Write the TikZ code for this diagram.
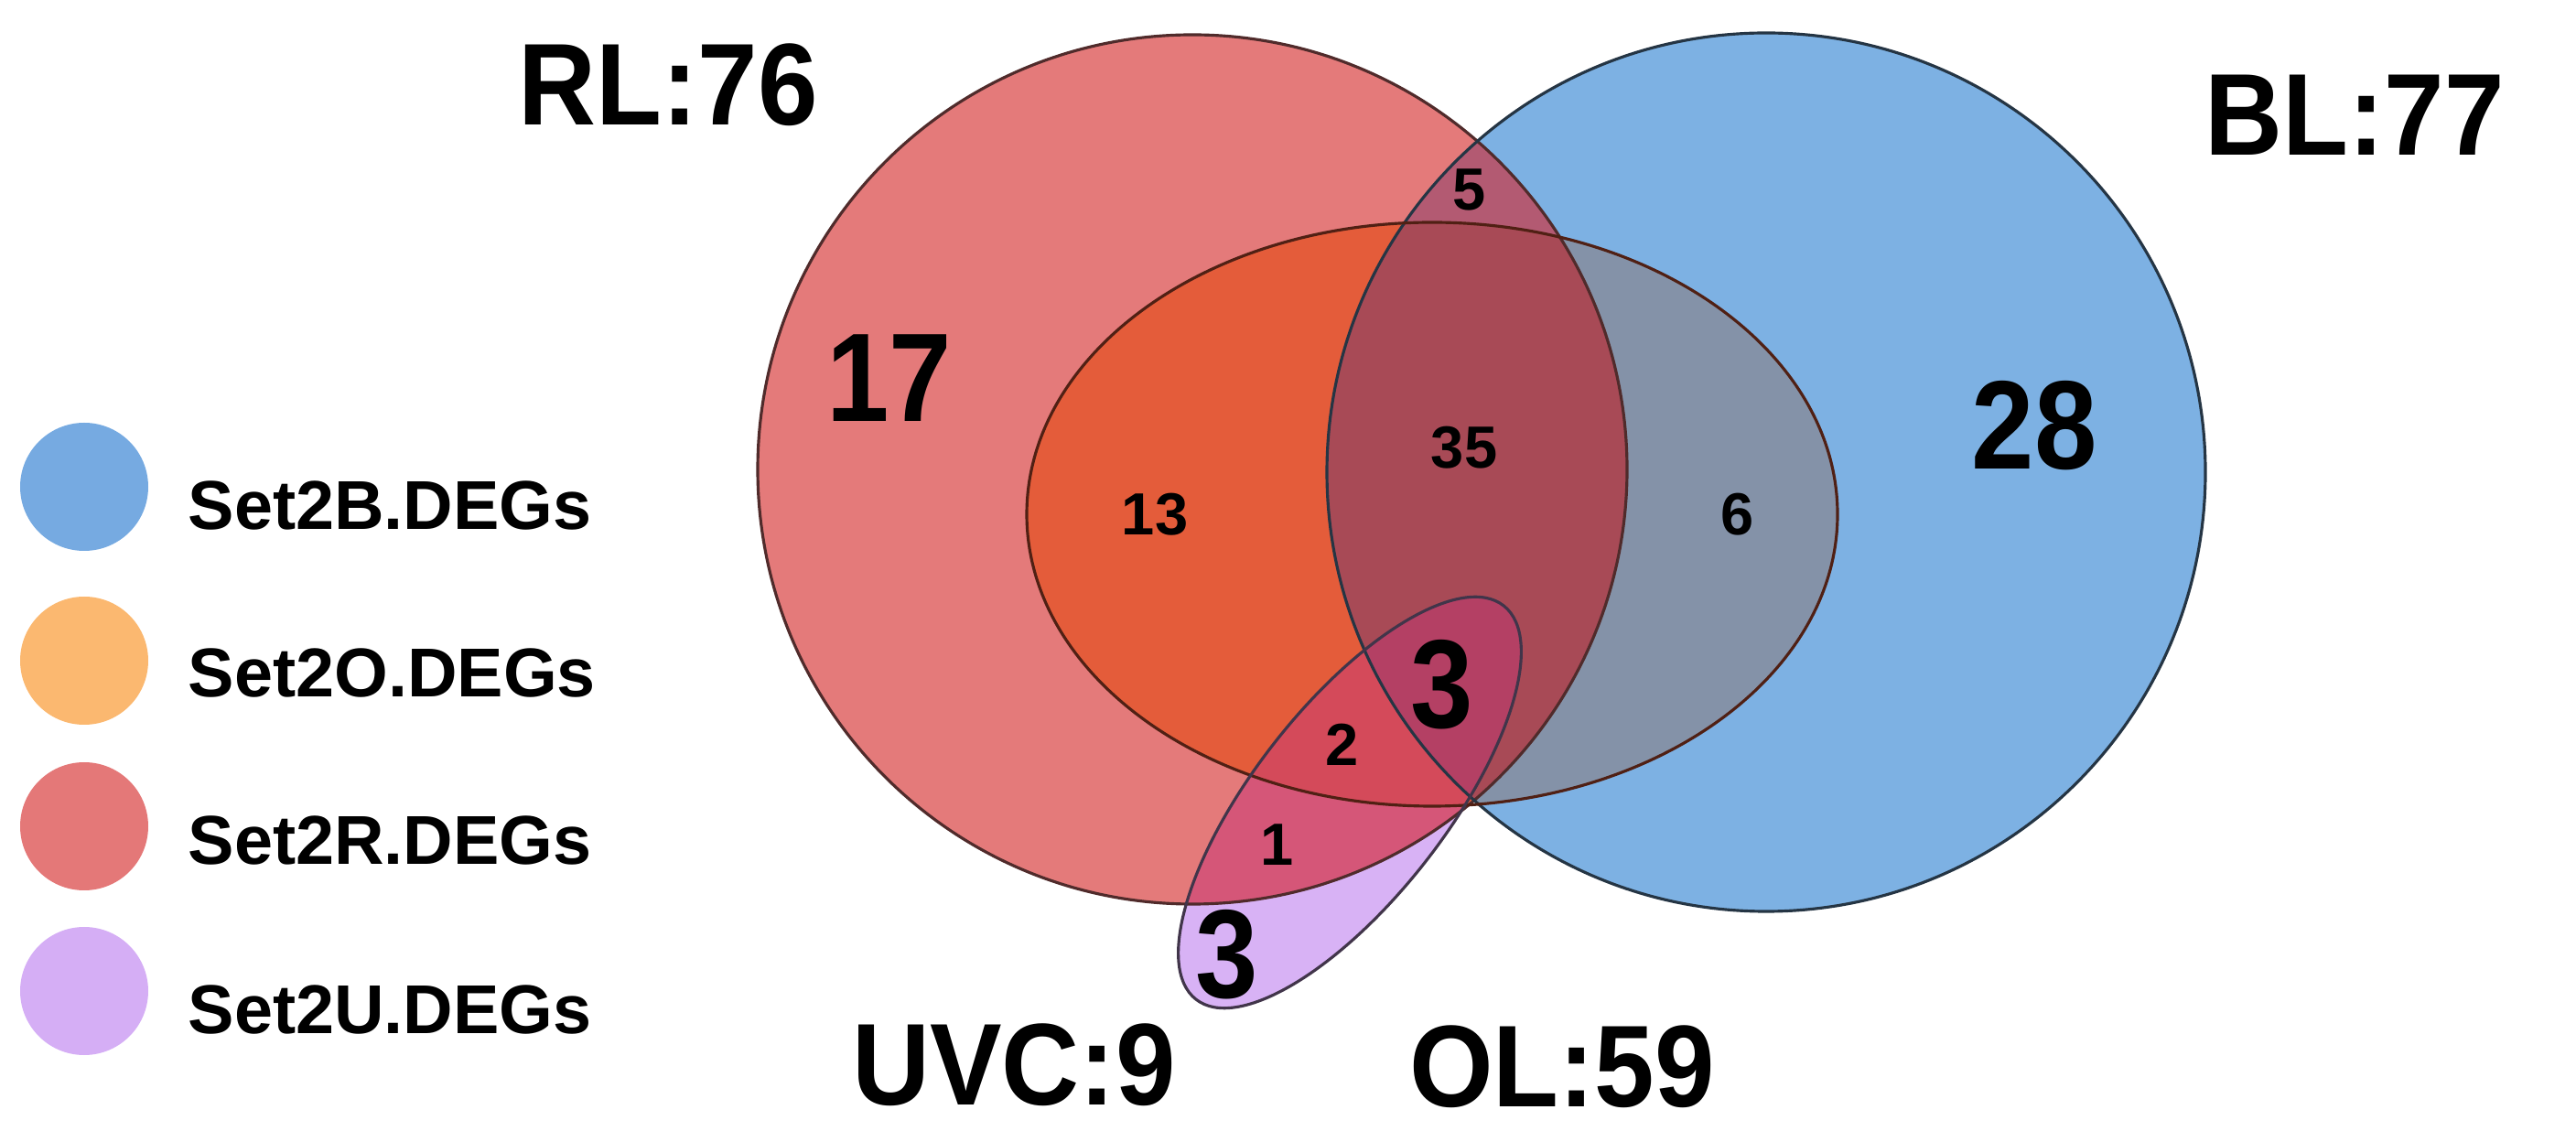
\documentclass[tikz,border=0pt]{standalone}
\usepackage{fontspec}
\setmainfont{Liberation Sans}
\usepackage{tikz}
\usetikzlibrary{positioning}

% region colours
\definecolor{rlonly}{HTML}{E47A7A}
\definecolor{blonly}{HTML}{7DB1E3}
\definecolor{rlbl}{HTML}{B35A72}
\definecolor{rlol}{HTML}{E45C3A}
\definecolor{blol}{HTML}{8492A8}
\definecolor{rlblol}{HTML}{A84A56}
\definecolor{uvconly}{HTML}{D8B2F5}
\definecolor{rluvc}{HTML}{D55678}
\definecolor{rloluvc}{HTML}{D44A5A}
\definecolor{alluvc}{HTML}{B44064}
% legend colours
\definecolor{legblue}{HTML}{76AAE1}
\definecolor{legorange}{HTML}{FBB870}
\definecolor{legred}{HTML}{E47878}
\definecolor{legpurple}{HTML}{D5AEF5}

% set shapes
\newcommand{\setRL}{(13.03,7.34) circle (4.75)}
\newcommand{\setBL}{(19.30,7.31) circle (4.80)}
\newcommand{\setOL}{(15.65,6.85) ellipse (4.43 and 3.19)}
\newcommand{\setUVC}{(14.75,3.70) ellipse (2.73 and 1.05)}

\begin{document}
\begin{tikzpicture}[
  uvcrot/.style={rotate around={52:(14.75,3.70)}},
  setlabel/.style={font=\fontsize{33.5}{36}\selectfont\bfseries, anchor=base, inner sep=0pt, yscale=1.08},
  bignum/.style={font=\fontsize{35}{38}\selectfont\bfseries, anchor=base, inner sep=0pt, yscale=1.12},
  smallnum/.style={font=\fontsize{18.5}{20}\selectfont\bfseries, anchor=base, inner sep=0pt},
  legtext/.style={font=\fontsize{21.5}{24}\selectfont\bfseries, anchor=base west, inner sep=0pt},
  legdot/.style={circle, minimum size=1.4cm, inner sep=0pt},
  outline/.style={line width=0.9pt}
]
  \useasboundingbox (0,0) rectangle (28.15,12.47);

  % RL and BL
  \fill[rlonly] \setRL;
  \fill[blonly] \setBL;
  \begin{scope}
    \clip \setRL;
    \fill[rlbl] \setBL;
  \end{scope}

  % OL inside RL and BL
  \begin{scope}
    \clip \setOL;
    \fill[rlol] \setRL;
    \fill[blol] \setBL;
    \begin{scope}
      \clip \setRL;
      \fill[rlblol] \setBL;
    \end{scope}
  \end{scope}

  % UVC
  \fill[uvconly, uvcrot] \setUVC;
  \begin{scope}
    \clip[uvcrot] \setUVC;
    \fill[rluvc] \setRL;
    \begin{scope}
      \clip \setOL;
      \fill[rloluvc] \setRL;
      \begin{scope}
        \clip \setBL;
        \fill[alluvc] \setRL;
      \end{scope}
    \end{scope}
  \end{scope}

  % outlines
  \draw[outline, draw=rlonly!35!black] \setRL;
  \draw[outline, draw=blonly!30!black] \setBL;
  \draw[outline, draw=rlol!35!black] \setOL;
  \draw[outline, draw=uvconly!30!black, uvcrot] \setUVC;

  % set names
  \node[setlabel] (rlname) at (7.30,11.10) {RL:76};
  \node[setlabel] (blname) at (25.73,10.77) {BL:77};
  \node[setlabel] (uvcname) at (11.08,0.40) {UVC:9};
  \node[setlabel] (olname) at (17.07,0.38) {OL:59};

  % counts
  \node[bignum] (n17) at (9.72,7.86) {17};
  \node[bignum] (n28) at (22.23,7.34) {28};
  \node[bignum] (n3a) at (15.76,4.51) {3};
  \node[bignum] (n3b) at (13.41,1.56) {3};
  \node[smallnum] (n5) at (16.06,10.17) {5};
  \node[smallnum] (n35) at (16.00,7.35) {35};
  \node[smallnum] (n13) at (12.62,6.62) {13};
  \node[smallnum] (n6) at (18.99,6.62) {6};
  \node[smallnum] (n2) at (14.67,4.10) {2};
  \node[smallnum] (n1) at (13.96,3.01) {1};

  % legend
  \node[legdot, fill=legblue] (dotB) at (0.92,7.15) {};
  \node[legtext] (legB) at (2.05,6.68) {Set2B.DEGs};
  \node[legdot, fill=legorange] (dotO) at (0.92,5.25) {};
  \node[legtext] (legO) at (2.05,4.85) {Set2O.DEGs};
  \node[legdot, fill=legred] (dotR) at (0.92,3.44) {};
  \node[legtext] (legR) at (2.05,3.02) {Set2R.DEGs};
  \node[legdot, fill=legpurple] (dotU) at (0.92,1.64) {};
  \node[legtext] (legU) at (2.05,1.18) {Set2U.DEGs};

\end{tikzpicture}
\end{document}
